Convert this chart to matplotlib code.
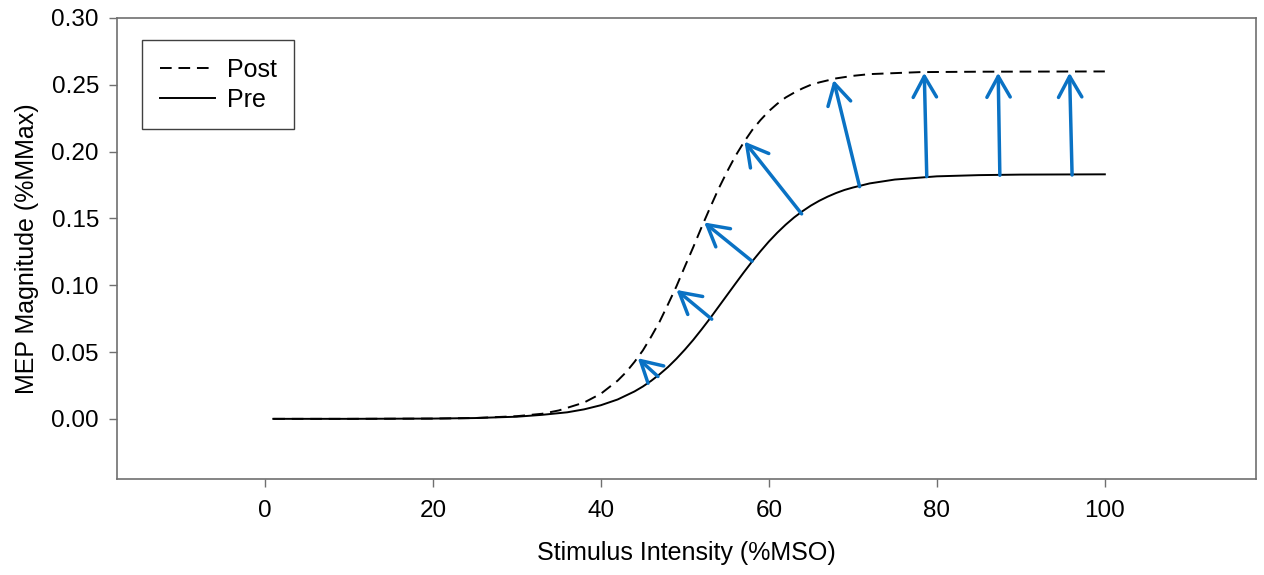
import matplotlib.pyplot as plt

plt.rcParams['font.family'] = ['Liberation Sans', 'DejaVu Sans']

# Pre curve
pre_x = [1, 10, 20, 25, 30, 33, 36, 38, 40, 42, 44, 45, 46, 47, 48, 49, 50, 51, 52,
         53, 54, 55, 56, 57, 58, 59, 60, 61, 62, 63, 64, 65, 66, 67, 68, 69, 70,
         72, 75, 80, 85, 90, 100]
pre_y = [0.0, 0.0, 0.0002, 0.0006, 0.0016, 0.003, 0.0049, 0.0071, 0.0102, 0.0145,
         0.0205, 0.0242, 0.0285, 0.0334, 0.0388, 0.0450, 0.0518, 0.0591, 0.0670,
         0.0752, 0.0838, 0.0924, 0.1010, 0.1095, 0.1177, 0.1254, 0.1327, 0.1393,
         0.1453, 0.1507, 0.1554, 0.1596, 0.1632, 0.1663, 0.1690, 0.1713, 0.1731,
         0.1762, 0.1791, 0.1815, 0.1824, 0.1828, 0.1830]

# Post curve
post_x = [1, 10, 20, 25, 30, 33, 35, 38, 40, 42, 43, 44, 45, 46, 47, 48, 49, 50,
          51, 52, 53, 54, 55, 56, 57, 58, 59, 60, 61, 62, 63, 64, 65, 66, 68, 70,
          72, 78, 85, 100]
post_y = [0.0, 0.0, 0.0002, 0.0006, 0.002, 0.0038, 0.0063, 0.0122, 0.0188, 0.0286,
          0.0349, 0.0426, 0.0512, 0.0616, 0.0728, 0.0858, 0.0992, 0.114, 0.1285,
          0.1436, 0.158, 0.172, 0.1847, 0.1965, 0.2068, 0.216, 0.2236, 0.2303,
          0.2358, 0.2405, 0.2441, 0.2473, 0.250, 0.2518, 0.2548, 0.2567, 0.258,
          0.2595, 0.2598, 0.260]

# arrows: tail on Pre, head on Post
arrow_x0 = [46.8, 53.2, 58.0, 63.9, 70.8, 78.8, 87.5, 96.1]
arrow_y0 = [0.0317, 0.0746, 0.118, 0.1534, 0.1738, 0.1813, 0.1823, 0.1825]
arrow_x1 = [44.4, 49.0, 52.3, 57.1, 67.7, 78.5, 87.3, 95.8]
arrow_y1 = [0.0454, 0.0965, 0.147, 0.2075, 0.2536, 0.259, 0.259, 0.259]

fig = plt.figure(figsize=(12.64, 5.75), dpi=100)
ax = fig.add_axes([0.0926, 0.167, 0.9011, 0.8017])

ax.plot(post_x, post_y, color='black', linewidth=1.4, dashes=(6, 3.5), label='Post')
ax.plot(pre_x, pre_y, color='black', linewidth=1.4, label='Pre')

for x0, y0, x1, y1 in zip(arrow_x0, arrow_y0, arrow_x1, arrow_y1):
    ax.annotate('', xy=(x1, y1), xytext=(x0, y0),
                arrowprops=dict(arrowstyle='->,head_length=0.75,head_width=0.42',
                                color='#0a72c4', lw=2.5, mutation_scale=20,
                                shrinkA=0, shrinkB=0))

ax.set_xlim(-17.6, 118)
ax.set_ylim(-0.045, 0.30)
ax.set_xticks([0, 20, 40, 60, 80, 100])
ax.set_yticks([0.0, 0.05, 0.10, 0.15, 0.20, 0.25, 0.30])
ax.set_yticklabels(['0.00', '0.05', '0.10', '0.15', '0.20', '0.25', '0.30'])

for s in ax.spines.values():
    s.set_color('#707070')
    s.set_linewidth(1.2)
ax.tick_params(direction='out', length=6, width=1.0, color='#707070',
               labelsize=17.5)
ax.tick_params(axis='y', pad=7)
ax.tick_params(axis='x', pad=9)

ax.set_xlabel('Stimulus Intensity (%MSO)', fontsize=18, labelpad=14)
ax.set_ylabel('MEP Magnitude (%MMax)', fontsize=18, labelpad=9)

leg = ax.legend(loc='upper left', bbox_to_anchor=(0.022, 0.952), fontsize=18,
                fancybox=False, framealpha=1, edgecolor='#404040',
                handlelength=2.2, labelspacing=0.25, borderpad=0.7,
                handletextpad=0.5, borderaxespad=0)
leg.get_frame().set_linewidth(1.0)

plt.savefig('out.png', dpi=100)
plt.close()
